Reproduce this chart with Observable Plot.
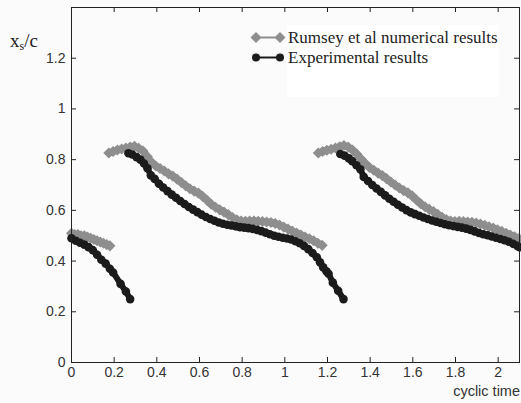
<!DOCTYPE html>
<html>
<head>
<meta charset="utf-8">
<script src="https://cdn.jsdelivr.net/npm/d3@7"></script>
<script src="https://cdn.jsdelivr.net/npm/@observablehq/plot@0.6"></script>
<style>
  html, body { margin: 0; padding: 0; background: #fbfbfb; }
  #wrap { position: relative; width: 521px; height: 403px; overflow: hidden; }
  #ylab { position: absolute; left: 10px; top: 30px; font-family: "Liberation Serif", "Times New Roman", serif; font-size: 19px; color: #222; }
  #ylab sub { font-size: 12px; vertical-align: -3px; }
  #xlab { position: absolute; right: 1px; top: 383px; font-family: "Liberation Sans", Arial, sans-serif; font-size: 14.5px; color: #333; }
  #legbox { position: absolute; left: 287px; top: 25px; width: 212px; height: 72px; background: #fff; }
  #legend { position: absolute; left: 0; top: 0; }
  .legtxt { position: absolute; left: 288px; font-family: "Liberation Serif", "Times New Roman", serif; font-size: 17px; color: #222; white-space: nowrap; line-height: 1; }
</style>
</head>
<body>
<div id="wrap"></div>
<script>
// ---- tick labels ----
const xTicks = [0, 0.2, 0.4, 0.6, 0.8, 1, 1.2, 1.4, 1.6, 1.8, 2];
const yTicks = [0, 0.2, 0.4, 0.6, 0.8, 1, 1.2];
const seriesNames = ["Rumsey et al numerical results", "Experimental results"];

// ---- Rumsey et al numerical results (grey diamonds) ----
const rumseyA_x = [0, 0.015, 0.03, 0.045, 0.06, 0.075, 0.09, 0.105, 0.12, 0.135, 0.15, 0.165, 0.18];
const rumseyA_y = [0.51, 0.505, 0.505, 0.50, 0.50, 0.495, 0.49, 0.485, 0.48, 0.475, 0.47, 0.465, 0.46];

const rumseyB_x = [0.175, 0.195, 0.215, 0.235, 0.255, 0.275, 0.295, 0.315, 0.335, 0.355, 0.375, 0.395, 0.415, 0.435, 0.455, 0.475, 0.495, 0.515, 0.535, 0.555, 0.575, 0.595, 0.615, 0.635, 0.655, 0.675, 0.695, 0.715, 0.735, 0.755, 0.775, 0.795, 0.815, 0.835, 0.855, 0.875, 0.895, 0.915, 0.935, 0.955, 0.975, 0.995, 1.015, 1.035, 1.055, 1.075, 1.095, 1.115, 1.135, 1.155, 1.175];
const rumseyB_y = [0.826, 0.832, 0.838, 0.842, 0.846, 0.85, 0.853, 0.845, 0.834, 0.812, 0.79, 0.775, 0.765, 0.755, 0.744, 0.735, 0.723, 0.71, 0.697, 0.685, 0.676, 0.668, 0.655, 0.64, 0.624, 0.612, 0.602, 0.593, 0.583, 0.572, 0.563, 0.558, 0.557, 0.558, 0.558, 0.557, 0.556, 0.554, 0.552, 0.548, 0.542, 0.534, 0.526, 0.518, 0.511, 0.503, 0.495, 0.488, 0.48, 0.47, 0.462];

const rumseyC_x = [1.157, 1.177, 1.197, 1.217, 1.237, 1.257, 1.277, 1.297, 1.317, 1.337, 1.357, 1.377, 1.397, 1.417, 1.437, 1.457, 1.477, 1.497, 1.517, 1.537, 1.557, 1.577, 1.597, 1.617, 1.637, 1.657, 1.677, 1.697, 1.717, 1.737, 1.757, 1.777, 1.797, 1.817, 1.837, 1.857, 1.877, 1.897, 1.917, 1.937, 1.957, 1.977, 1.997, 2.017, 2.037, 2.057, 2.077, 2.097];
const rumseyC_y = [0.826, 0.832, 0.837, 0.841, 0.846, 0.851, 0.856, 0.85, 0.838, 0.822, 0.803, 0.785, 0.769, 0.758, 0.747, 0.737, 0.725, 0.712, 0.70, 0.688, 0.678, 0.669, 0.657, 0.641, 0.626, 0.614, 0.604, 0.595, 0.584, 0.573, 0.564, 0.558, 0.556, 0.557, 0.556, 0.554, 0.553, 0.55, 0.546, 0.541, 0.535, 0.53, 0.523, 0.517, 0.51, 0.503, 0.496, 0.489];

// ---- Experimental results (black circles) ----
const expA_x = [0, 0.02, 0.04, 0.06, 0.08, 0.10, 0.12, 0.14, 0.16, 0.18, 0.195, 0.23, 0.255, 0.275];
const expA_y = [0.49, 0.48, 0.472, 0.465, 0.455, 0.443, 0.425, 0.405, 0.39, 0.37, 0.355, 0.31, 0.28, 0.25];

const expB_x = [0.267, 0.285, 0.305, 0.323, 0.34, 0.356, 0.372, 0.39, 0.41, 0.43, 0.45, 0.47, 0.49, 0.51, 0.53, 0.55, 0.57, 0.59, 0.61, 0.63, 0.65, 0.67, 0.69, 0.71, 0.73, 0.75, 0.77, 0.79, 0.81, 0.83, 0.85, 0.87, 0.89, 0.91, 0.93, 0.95, 0.97, 0.99, 1.01, 1.03, 1.05, 1.07, 1.09, 1.11, 1.13, 1.15, 1.165, 1.18, 1.195, 1.205, 1.225, 1.25, 1.275];
const expB_y = [0.825, 0.82, 0.81, 0.80, 0.785, 0.766, 0.738, 0.724, 0.705, 0.69, 0.676, 0.662, 0.65, 0.637, 0.625, 0.613, 0.603, 0.593, 0.583, 0.574, 0.566, 0.559, 0.552, 0.547, 0.543, 0.54, 0.537, 0.534, 0.532, 0.53, 0.527, 0.523, 0.518, 0.512, 0.506, 0.50, 0.496, 0.492, 0.489, 0.485, 0.478, 0.47, 0.46, 0.447, 0.432, 0.415, 0.395, 0.375, 0.36, 0.35, 0.315, 0.283, 0.25];

const expC_x = [1.26, 1.28, 1.30, 1.316, 1.336, 1.354, 1.37, 1.39, 1.41, 1.43, 1.45, 1.47, 1.49, 1.51, 1.53, 1.55, 1.57, 1.59, 1.61, 1.63, 1.65, 1.67, 1.69, 1.71, 1.73, 1.75, 1.77, 1.79, 1.81, 1.83, 1.85, 1.87, 1.89, 1.91, 1.93, 1.95, 1.97, 1.99, 2.01, 2.03, 2.05, 2.07, 2.09, 2.1];
const expC_y = [0.822, 0.816, 0.805, 0.794, 0.778, 0.762, 0.732, 0.716, 0.70, 0.686, 0.673, 0.659, 0.646, 0.634, 0.622, 0.611, 0.601, 0.592, 0.585, 0.579, 0.572, 0.566, 0.56, 0.555, 0.55, 0.545, 0.541, 0.538, 0.535, 0.532, 0.528, 0.523, 0.517, 0.511, 0.506, 0.502, 0.497, 0.492, 0.487, 0.482, 0.476, 0.468, 0.46, 0.455];

// ---- build tables ----
function seg(xs, ys, id) { return xs.map((x, i) => ({x, y: ys[i], seg: id})); }
const rumsey = [...seg(rumseyA_x, rumseyA_y, "A"), ...seg(rumseyB_x, rumseyB_y, "B"), ...seg(rumseyC_x, rumseyC_y, "C")];
const experimental = [...seg(expA_x, expA_y, "A"), ...seg(expB_x, expB_y, "B"), ...seg(expC_x, expC_y, "C")];

const GRAY = "#8e8e8e";
const BLACK = "#1b1b1b";
const W = 521, H = 403;
const mL = 71, mR = 2, mT = 7, mB = 41;
const plotW = W - mL - mR, plotH = H - mT - mB;
const TL = 5; // tick length (px)

const chart = Plot.plot({
  width: W,
  height: H,
  marginLeft: mL,
  marginRight: mR,
  marginTop: mT,
  marginBottom: mB,
  style: { background: "transparent", fontFamily: "'Liberation Sans', Arial, sans-serif", fontSize: "14px", color: "#333" },
  x: { domain: [0, 2.1] },
  y: { domain: [0, 1.4] },
  marks: [
    Plot.line(rumsey, { x: "x", y: "y", z: "seg", stroke: GRAY, strokeWidth: 7, strokeLinejoin: "round" }),
    Plot.dot(rumsey, { x: "x", y: "y", symbol: "diamond2", r: 5, fill: GRAY, stroke: "none" }),
    Plot.line(experimental, { x: "x", y: "y", z: "seg", stroke: BLACK, strokeWidth: 6, strokeLinejoin: "round" }),
    Plot.dot(experimental, { x: "x", y: "y", r: 4.3, fill: BLACK, stroke: "none" }),
    Plot.frame({ stroke: "#222", strokeWidth: 1 }),
    // inward ticks (bottom / top / left / right)
    Plot.tickX(xTicks, { x: d => d, insetTop: plotH - TL, stroke: "#222" }),
    Plot.tickX(xTicks, { x: d => d, insetBottom: plotH - TL, stroke: "#222" }),
    Plot.tickY(yTicks, { y: d => d, insetRight: plotW - TL, stroke: "#222" }),
    Plot.tickY(yTicks, { y: d => d, insetLeft: plotW - TL, stroke: "#222" }),
    Plot.axisX(xTicks, { tickSize: 0, tickPadding: 5, tickFormat: d => String(d), label: null, fill: "#333" }),
    Plot.axisY(yTicks, { tickSize: 0, tickPadding: 6, tickFormat: d => String(d), label: null, fill: "#333" })
  ]
});

const wrap = document.getElementById("wrap");
const legbox = document.createElement("div");
legbox.id = "legbox";
wrap.appendChild(legbox);
chart.style.position = "absolute";
chart.style.left = "0";
chart.style.top = "0";
wrap.appendChild(chart);

// y label and x label
const ylab = document.createElement("div");
ylab.id = "ylab";
ylab.innerHTML = "x<sub>s</sub>/c";
wrap.appendChild(ylab);
const xlab = document.createElement("div");
xlab.id = "xlab";
xlab.textContent = "cyclic time";
wrap.appendChild(xlab);

// legend samples
const ns = "http://www.w3.org/2000/svg";
const lsvg = document.createElementNS(ns, "svg");
lsvg.setAttribute("id", "legend");
lsvg.setAttribute("width", W);
lsvg.setAttribute("height", 100);
const entries = [
  { name: seriesNames[0], color: GRAY, sym: "diamond", y: 37.5 },
  { name: seriesNames[1], color: BLACK, sym: "circle", y: 57.5 }
];
entries.forEach(e => {
  const ln = document.createElementNS(ns, "line");
  ln.setAttribute("x1", 256); ln.setAttribute("x2", 280);
  ln.setAttribute("y1", e.y); ln.setAttribute("y2", e.y);
  ln.setAttribute("stroke", e.color); ln.setAttribute("stroke-width", 2);
  lsvg.appendChild(ln);
  [256, 280].forEach(cx => {
    let m;
    if (e.sym === "circle") {
      m = document.createElementNS(ns, "circle");
      m.setAttribute("cx", cx); m.setAttribute("cy", e.y); m.setAttribute("r", 4);
    } else {
      m = document.createElementNS(ns, "path");
      m.setAttribute("d", `M${cx},${e.y - 5.5}L${cx + 5.5},${e.y}L${cx},${e.y + 5.5}L${cx - 5.5},${e.y}Z`);
    }
    m.setAttribute("fill", e.color);
    lsvg.appendChild(m);
  });
  const t = document.createElement("div");
  t.className = "legtxt";
  t.style.top = (e.y - 9) + "px";
  t.textContent = e.name;
  wrap.appendChild(t);
});
wrap.appendChild(lsvg);
</script>
</body>
</html>
